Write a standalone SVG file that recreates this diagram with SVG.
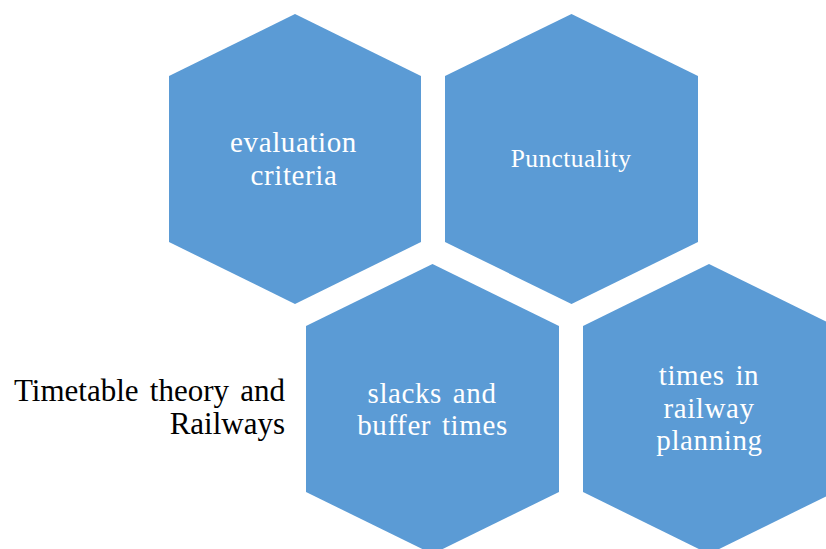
<svg xmlns="http://www.w3.org/2000/svg" width="826" height="549" viewBox="0 0 826 549">
<style>
.hex{fill:#5B9BD5;}
</style>
<rect width="826" height="549" fill="#ffffff"/>
<g id="connectors"></g>
<g font-family="Liberation Serif, Times New Roman, serif">
<g id="node-evaluation" fill="#ffffff" font-size="29" text-anchor="middle" letter-spacing="0.6" word-spacing="3">
<polygon class="hex" points="295,14 421,76 421,242 295,304 169,242 169,76"/>
<text x="293.5" y="152">evaluation</text>
<text x="294" y="185">criteria</text>
</g>
<g id="node-punctuality" fill="#ffffff" font-size="25.5" text-anchor="middle" letter-spacing="0.4">
<polygon class="hex" points="571.5,14 698,76 698,242 571.5,304 445,242 445,76"/>
<text x="571" y="167">Punctuality</text>
</g>
<g id="node-slacks" fill="#ffffff" font-size="29" text-anchor="middle" letter-spacing="0.6" word-spacing="3">
<polygon class="hex" points="432.5,264 559,326 559,492 432.5,554 306,492 306,326"/>
<text x="432" y="403">slacks and</text>
<text x="432.5" y="435">buffer times</text>
</g>
<g id="node-times" fill="#ffffff" font-size="29" text-anchor="middle" letter-spacing="0.6" word-spacing="3">
<polygon class="hex" points="709,264 835,326 835,492 709,554 583,492 583,326"/>
<text x="709" y="385">times in</text>
<text x="709" y="418">railway</text>
<text x="709.5" y="450">planning</text>
</g>
<g id="label-title" fill="#000000" font-size="31" text-anchor="end" word-spacing="3.5">
<text x="285" y="401">Timetable theory and</text>
<text x="285" y="434">Railways</text>
</g>
</g>
</svg>
